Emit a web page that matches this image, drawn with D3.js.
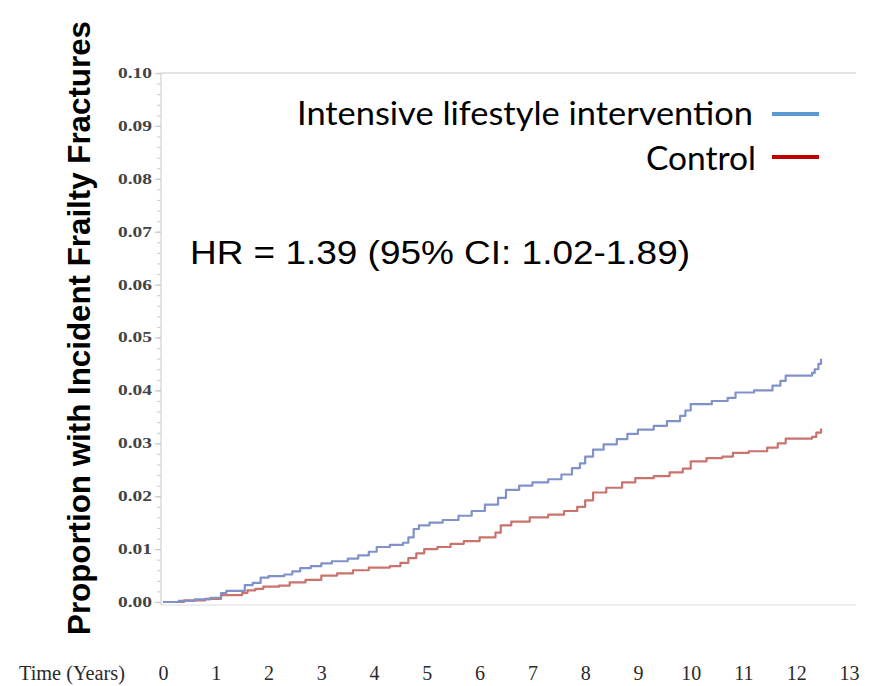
<!DOCTYPE html>
<html>
<head>
<meta charset="utf-8">
<script src="https://cdn.jsdelivr.net/npm/d3@7/dist/d3.min.js"></script>
<style>
  html, body { margin: 0; padding: 0; background: #fff; }
  svg { display: block; }
</style>
</head>
<body>
<svg id="chart" width="869" height="686"></svg>
<script>
// Cumulative incidence of frailty fractures (step functions), by arm
const lifestyleTimes = [0, 0.3, 0.6, 0.9, 1.1, 1.2, 1.55, 1.7, 1.85, 2.0, 2.3, 2.45, 2.6, 2.8, 3.0, 3.2, 3.5, 3.7, 3.9, 4.05, 4.3, 4.55, 4.65, 4.75, 4.85, 5.05, 5.3, 5.6, 5.85, 6.1, 6.35, 6.5, 6.75, 7.0, 7.3, 7.55, 7.75, 7.9, 8.0, 8.15, 8.35, 8.6, 8.8, 9.0, 9.3, 9.55, 9.8, 9.9, 10.0, 10.4, 10.7, 10.85, 11.2, 11.55, 11.7, 11.8, 12.3, 12.35, 12.42, 12.47];
const lifestyleValues = [0, 0.0002, 0.0005, 0.0008, 0.0017, 0.0021, 0.0032, 0.0036, 0.0046, 0.0049, 0.0052, 0.0058, 0.0064, 0.0068, 0.0073, 0.0077, 0.0082, 0.0088, 0.0095, 0.0104, 0.0108, 0.0112, 0.0122, 0.0138, 0.0145, 0.0150, 0.0155, 0.0163, 0.0172, 0.0184, 0.0197, 0.0212, 0.0220, 0.0226, 0.0232, 0.0241, 0.0253, 0.0262, 0.0275, 0.0288, 0.0298, 0.0308, 0.0318, 0.0326, 0.0333, 0.0342, 0.0352, 0.0362, 0.0374, 0.0380, 0.0386, 0.0396, 0.0400, 0.0409, 0.0418, 0.0428, 0.0433, 0.0440, 0.0450, 0.0460];

const controlTimes = [0, 0.4, 0.8, 1.1, 1.5, 1.6, 1.75, 1.9, 2.2, 2.4, 2.7, 3.0, 3.3, 3.6, 3.9, 4.3, 4.5, 4.65, 4.8, 4.95, 5.2, 5.45, 5.7, 6.0, 6.3, 6.4, 6.6, 6.95, 7.3, 7.6, 7.85, 8.0, 8.15, 8.4, 8.7, 8.95, 9.3, 9.6, 9.85, 10.0, 10.3, 10.6, 10.8, 11.1, 11.45, 11.65, 11.8, 12.3, 12.38, 12.47];
const controlValues = [0, 0.0003, 0.0006, 0.0013, 0.0017, 0.0022, 0.0025, 0.0029, 0.0031, 0.0037, 0.0042, 0.0050, 0.0054, 0.0060, 0.0065, 0.0068, 0.0074, 0.0083, 0.0092, 0.0100, 0.0104, 0.0110, 0.0115, 0.0122, 0.0131, 0.0145, 0.0152, 0.0160, 0.0165, 0.0172, 0.0180, 0.0192, 0.0207, 0.0216, 0.0226, 0.0234, 0.0238, 0.0245, 0.0252, 0.0266, 0.0272, 0.0275, 0.0282, 0.0285, 0.0292, 0.0300, 0.0309, 0.0312, 0.0320, 0.0328];

const yTicks = [0, 0.01, 0.02, 0.03, 0.04, 0.05, 0.06, 0.07, 0.08, 0.09, 0.10];
const xTicks = [0, 1, 2, 3, 4, 5, 6, 7, 8, 9, 10, 11, 12, 13];

const legendLabels = ["Intensive lifestyle intervention", "Control"];
const hrText = "HR = 1.39 (95% CI: 1.02-1.89)";
const yTitle = "Proportion with Incident Frailty Fractures";
const xTitle = "Time (Years)";

const svg = d3.select("#chart");

const x = d3.scaleLinear().domain([0, 13]).range([163, 849]);
const y = d3.scaleLinear().domain([0, 0.10]).range([602, 73]);

// Plot frame (left, top, bottom edges)
const frame = svg.append("g").attr("stroke", "#d8dadc").attr("stroke-width", 1.5).attr("fill", "none");
frame.append("line").attr("x1", 161).attr("x2", 161).attr("y1", 73).attr("y2", 605);
frame.append("line").attr("x1", 161).attr("x2", 856).attr("y1", 73).attr("y2", 73);
frame.append("line").attr("x1", 161).attr("x2", 856).attr("y1", 605).attr("y2", 605).attr("stroke", "#e6e7e8");

// Minor y ticks
const minor = d3.range(0, 0.1001, 0.002);
svg.append("g")
  .attr("transform", "translate(161,0)")
  .call(d3.axisLeft(y).tickValues(minor).tickSize(4).tickFormat(""))
  .call(g => g.select(".domain").remove())
  .call(g => g.selectAll("line").attr("stroke", "#d0d2d4").attr("stroke-width", 1.2));

// Major y ticks with labels
const yAxis = svg.append("g")
  .attr("transform", "translate(161,0)")
  .call(d3.axisLeft(y).tickValues(yTicks).tickSize(6).tickPadding(3).tickFormat(d3.format(".2f")))
  .call(g => g.select(".domain").remove());
yAxis.selectAll("line").attr("stroke", "#c8cacc").attr("stroke-width", 1.2);
yAxis.selectAll("text")
  .attr("fill", "#444")
  .attr("font-family", "'Liberation Serif', 'DejaVu Serif', serif")
  .attr("font-size", 14)
  .attr("font-weight", "bold")
  .attr("textLength", 34)
  .attr("lengthAdjust", "spacingAndGlyphs");

// X tick labels along the bottom
const xAxis = svg.append("g")
  .attr("transform", "translate(0,662)")
  .call(d3.axisBottom(x).tickValues(xTicks).tickSize(0).tickPadding(0).tickFormat(d3.format("d")))
  .call(g => g.select(".domain").remove());
xAxis.selectAll("text")
  .attr("fill", "#2a2a2a")
  .attr("font-family", "'Liberation Serif', 'DejaVu Serif', serif")
  .attr("font-size", 20)
  .attr("dy", "0.9em");

svg.append("text")
  .attr("x", 19).attr("y", 680)
  .attr("fill", "#2a2a2a")
  .attr("font-family", "'Liberation Serif', 'DejaVu Serif', serif")
  .attr("font-size", 20)
  .attr("textLength", 106)
  .attr("lengthAdjust", "spacingAndGlyphs")
  .text(xTitle);

// Y axis title
svg.append("text")
  .attr("transform", "translate(90,328) rotate(-90)")
  .attr("text-anchor", "middle")
  .attr("font-family", "'Liberation Sans', Arial, sans-serif")
  .attr("font-weight", "bold")
  .attr("font-size", 31)
  .attr("fill", "#000")
  .attr("textLength", 614)
  .attr("lengthAdjust", "spacingAndGlyphs")
  .text(yTitle);

// Step curves
const line = d3.line()
  .x(d => x(d[0]))
  .y(d => y(d[1]))
  .curve(d3.curveStepAfter);

const lifestyleData = d3.zip(lifestyleTimes, lifestyleValues);
const controlData = d3.zip(controlTimes, controlValues);

svg.append("path")
  .datum(controlData)
  .attr("fill", "none")
  .attr("stroke", "#c9736c")
  .attr("stroke-width", 2.2)
  .attr("stroke-linejoin", "round")
  .attr("d", line);

svg.append("path")
  .datum(lifestyleData)
  .attr("fill", "none")
  .attr("stroke", "#8192c9")
  .attr("stroke-width", 2.2)
  .attr("stroke-linejoin", "round")
  .attr("d", line);

// Legend
const legendColors = ["#5b9bd5", "#c00000"];
const legendY = [114, 157];
const legendBase = [125, 170];
const legendRight = [753, 756];
const legendWidth = [456, 110];
legendLabels.forEach((lab, i) => {
  svg.append("text")
    .attr("x", legendRight[i]).attr("y", legendBase[i])
    .attr("text-anchor", "end")
    .attr("font-family", "Lato, 'Open Sans', sans-serif")
    .attr("font-size", 32)
    .attr("fill", "#000")
    .attr("textLength", legendWidth[i])
    .attr("lengthAdjust", "spacingAndGlyphs")
    .text(lab);
  svg.append("line")
    .attr("x1", 772).attr("x2", 819)
    .attr("y1", legendY[i]).attr("y2", legendY[i])
    .attr("stroke", legendColors[i])
    .attr("stroke-width", 4);
});

// Hazard ratio annotation
svg.append("text")
  .attr("x", 190).attr("y", 264)
  .attr("font-family", "'Liberation Sans', Arial, sans-serif")
  .attr("font-size", 34)
  .attr("fill", "#000")
  .attr("textLength", 500)
  .attr("lengthAdjust", "spacingAndGlyphs")
  .text(hrText);
</script>
</body>
</html>
